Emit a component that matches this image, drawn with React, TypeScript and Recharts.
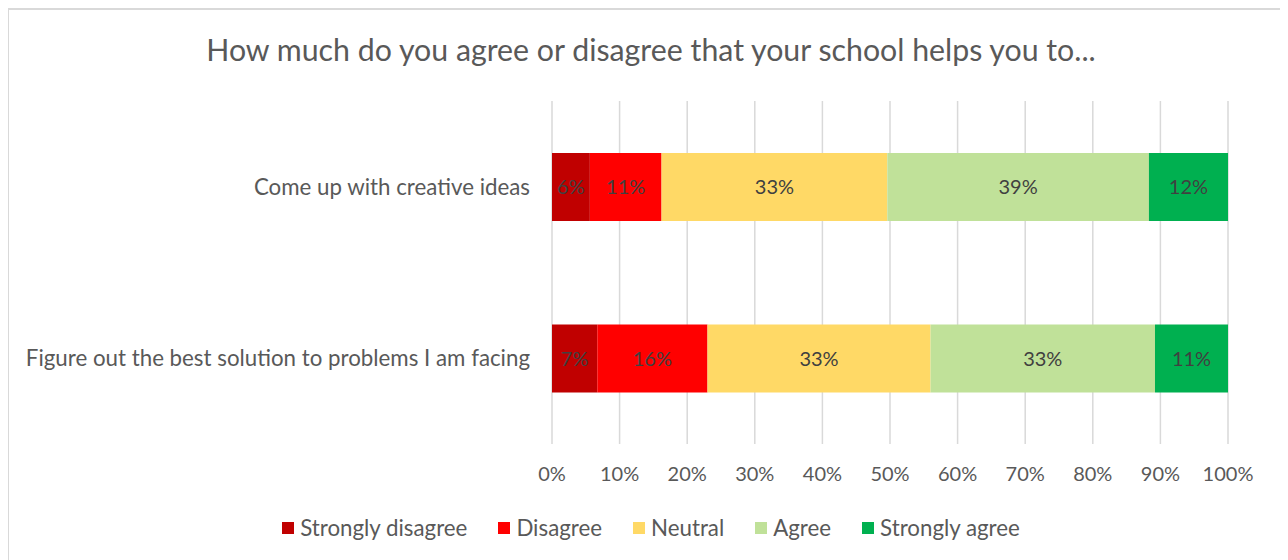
import React from "react";
import { BarChart, Bar, XAxis, YAxis, CartesianGrid, LabelList } from "recharts";

const categories = [
  "Come up with creative ideas",
  "Figure out the best solution to problems I am facing",
];
const seriesNames = ["Strongly disagree", "Disagree", "Neutral", "Agree", "Strongly agree"];
const seriesKeys = ["sd", "d", "n", "a", "sa"];
const seriesColors = ["#C00000", "#FF0000", "#FFD966", "#C0E199", "#00B050"];
const stronglyDisagree = [5.6, 6.7];
const disagree = [10.6, 16.3];
const neutral = [33.4, 33.0];
const agree = [38.7, 33.2];
const stronglyAgree = [11.7, 10.8];
const xTicks = [0, 10, 20, 30, 40, 50, 60, 70, 80, 90, 100];
const title = "How much do you agree or disagree that your school helps you to...";

const seriesValues = [stronglyDisagree, disagree, neutral, agree, stronglyAgree];
const data = categories.map((c, i) => {
  const row: Record<string, any> = { category: c };
  seriesKeys.forEach((k, s) => {
    row[k] = seriesValues[s][i];
  });
  return row;
});

const FONT = "Lato, 'Open Sans', sans-serif";

export default function App() {
  return (
    <div
      style={{
        position: "relative",
        width: 1274,
        height: 560,
        border: "2px solid #d9d9d9",
        marginLeft: -1,
        background: "#fff",
        fontFamily: FONT,
      }}
    >
      <div
        style={{
          position: "absolute",
          top: 21,
          left: 0,
          width: 1284,
          textAlign: "center",
          fontSize: 30.3,
          lineHeight: "36px",
          color: "#595959",
          whiteSpace: "nowrap",
        }}
      >
        {title}
      </div>
      <BarChart
        width={1274}
        height={550}
        data={data}
        layout="vertical"
        margin={{ top: 91, right: 55, bottom: 76, left: 1 }}
        style={{ fontFamily: FONT }}
      >
        <CartesianGrid horizontal={false} stroke="#d9d9d9" strokeWidth={1.5} />
        <XAxis
          type="number"
          domain={[0, 100]}
          ticks={xTicks}
          tickFormatter={(v: number) => `${v}%`}
          axisLine={false}
          tickLine={false}
          tickSize={6}
          tickMargin={17}
          height={40}
          interval={0}
          tick={{ fill: "#595959", fontSize: 20 }}
        />
        <YAxis
          type="category"
          dataKey="category"
          width={542}
          axisLine={false}
          tickLine={false}
          tickSize={6}
          tickMargin={16}
          tick={{ fill: "#595959", fontSize: 22.3 }}
        />
        {seriesKeys.map((k, s) => (
          <Bar
            key={k}
            dataKey={k}
            name={seriesNames[s]}
            stackId="a"
            fill={seriesColors[s]}
            barSize={68}
            isAnimationActive={false}
          >
            <LabelList
              dataKey={k}
              position="center"
              formatter={(v: any) => `${Math.round(Number(v))}%`}
              fill="#404040"
              fontSize={20}
            />
          </Bar>
        ))}
      </BarChart>
      <div
        style={{
          position: "absolute",
          top: 504,
          left: 0,
          width: 1284,
          display: "flex",
          justifyContent: "center",
          alignItems: "center",
          fontSize: 22.3,
          color: "#595959",
        }}
      >
        {seriesNames.map((n, s) => (
          <div
            key={n}
            style={{ display: "flex", alignItems: "center", marginRight: s < seriesNames.length - 1 ? 31 : 0 }}
          >
            <span
              style={{
                display: "inline-block",
                width: 12,
                height: 12,
                background: seriesColors[s],
                marginRight: 6,
              }}
            />
            <span>{n}</span>
          </div>
        ))}
      </div>
    </div>
  );
}
